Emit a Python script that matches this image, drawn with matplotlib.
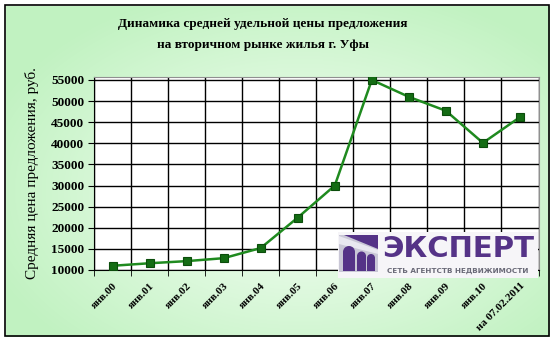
import numpy as np
import matplotlib.pyplot as plt
from matplotlib.patches import Rectangle, Polygon, Wedge

# data
labels = ["янв.00", "янв.01", "янв.02", "янв.03", "янв.04", "янв.05", "янв.06",
          "янв.07", "янв.08", "янв.09", "янв.10", "на 07.02.2011"]
prices = [11000, 11600, 12100, 12800, 15200, 22400, 30000,
          55000, 51000, 47700, 40100, 46200]
yticks = list(range(10000, 55001, 5000))

W, H = 555, 342
fig = plt.figure(figsize=(W / 100, H / 100), dpi=100)

# background gradient (light green, paler in the middle)
bg = fig.add_axes([0, 0, 1, 1], zorder=0)
yy, xx = np.mgrid[0:H, 0:W]
d = np.sqrt(((xx - 300) / 330.0) ** 2 + ((yy - 190) / 210.0) ** 2)
t = np.clip(d, 0, 1)[..., None]
c_in = np.array([0.97, 1.0, 0.97])
c_out = np.array([0.76, 0.95, 0.76])
img = c_in * (1 - t) + c_out * t
bg.imshow(img, extent=[0, W, H, 0], aspect='auto')
bg.add_patch(Rectangle((0, 0), W, H, fill=False, ec='white', lw=8))
bg.add_patch(Rectangle((4.5, 4.5), 544, 331, fill=False, ec='black', lw=1.2))
bg.set_xlim(0, W)
bg.set_ylim(H, 0)
bg.axis('off')

# main chart
ax = fig.add_axes([94 / W, 1 - 270 / H, (538.5 - 94) / W, (270 - 77) / H], zorder=1)
x = np.arange(len(prices))
ax.plot(x, prices, color='#1f8a1f', lw=1.8, marker='s', ms=6,
        mfc='#146c14', mec='#0b4d0b', mew=0.8, zorder=3)
ax.set_xlim(-0.5, len(prices) - 0.5)
ax.set_ylim(10000, 55700)
ax.set_yticks(yticks)
ax.set_xticks(x)
ax.set_xticks(np.arange(-0.5, len(prices), 1), minor=True)
ax.grid(True, which='minor', axis='x', color='black', lw=1)
ax.grid(True, which='major', axis='y', color='black', lw=1)
ax.set_axisbelow(True)
ax.tick_params(axis='x', which='major', length=0, pad=8)
ax.tick_params(axis='x', which='minor', length=4, color='black')
ax.tick_params(axis='y', length=4, color='black', pad=3)
for s in ax.spines.values():
    s.set_color('#909090')
ax.spines['left'].set_color('black')
ax.spines['bottom'].set_color('black')

serif = 'Liberation Serif'
ax.set_yticklabels([str(v) for v in yticks], fontfamily=serif,
                   fontweight='bold', fontsize=9.5)
ax.set_xticklabels(labels, fontfamily=serif, fontweight='bold', fontsize=8,
                   rotation=45, ha='right', va='top', rotation_mode='anchor')
ax.set_ylabel("Средняя цена предложения, руб.", fontfamily=serif,
              fontsize=11, labelpad=9)

fig.text(263 / W, 1 - 24 / H, "Динамика средней удельной цены предложения",
         ha='center', va='center', fontfamily=serif, fontweight='bold', fontsize=9.5)
fig.text(263 / W, 1 - 45 / H, "на вторичном рынке жилья г. Уфы",
         ha='center', va='center', fontfamily=serif, fontweight='bold', fontsize=9.5)

# logo overlay
lg = fig.add_axes([0, 0, 1, 1], zorder=2)
lg.set_xlim(0, W)
lg.set_ylim(H, 0)
lg.axis('off')
lg.patch.set_alpha(0)
purple = '#553387'
lg.add_patch(Rectangle((338, 232), 200, 46, fc='#f6f5f8', ec='none'))
lg.add_patch(Rectangle((339, 235), 39, 37, fc='#c9c7d6', ec='none'))
lg.add_patch(Polygon([(344, 235), (378, 235), (378, 249)], fc=purple, ec='none'))
lg.add_patch(Polygon([(339, 236), (378, 250), (378, 254), (339, 244)],
                     fc='#e9e8f0', ec='none'))
for x0, w, top in ((343, 12, 252), (357, 9, 256), (367, 8, 258)):
    r = w / 2
    lg.add_patch(Rectangle((x0, top), w, 271 - top, fc=purple, ec='none'))
    lg.add_patch(Wedge((x0 + r, top), r, 180, 360, fc=purple, ec='none'))
lg.text(458, 249, "ЭКСПЕРТ", ha='center', va='center', color=purple,
        fontfamily='DejaVu Sans', fontweight='bold', fontsize=21)
lg.text(458, 271, "СЕТЬ АГЕНТСТВ НЕДВИЖИМОСТИ", ha='center', va='center',
        color='#6a6a78', fontfamily='DejaVu Sans', fontweight='bold', fontsize=5.2)

fig.savefig('out.png', dpi=100)
